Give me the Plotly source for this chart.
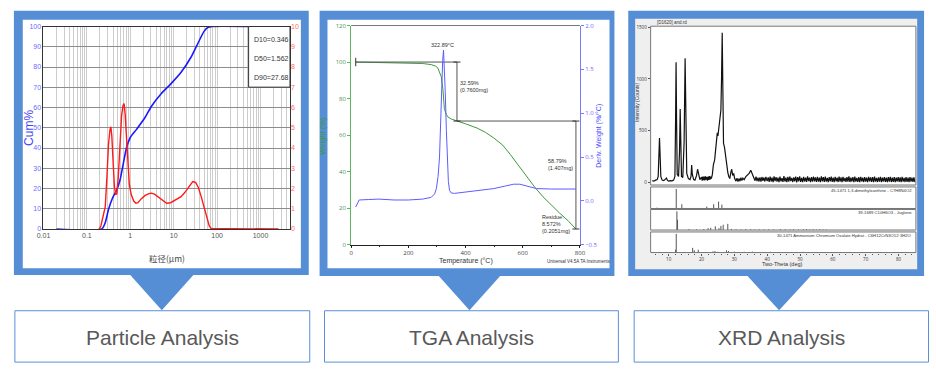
import plotly.graph_objects as go

W, H = 936, 371


def fx(p):
    return p / W


def fy(p):
    return 1 - p / H


NARROW = "Liberation Sans Narrow, Arial Narrow, Liberation Sans, Arial, sans-serif"
SANS = "Liberation Sans, Arial, sans-serif"

# ---------------- Particle size data ----------------
psd_cum_size = [0.02, 0.22, 0.265, 0.315, 0.39, 0.49, 0.58, 0.69, 0.82, 1.0, 1.39, 2.15,
                3.05, 5.2, 8.7, 14.8, 24.8, 35, 50, 61, 77, 520]
psd_cum_pct = [0, 0, 3.2, 9.7, 15.3, 19.4, 24.2, 32.3, 40.3, 45.2, 49.2, 54.8,
               60.5, 66.9, 71.8, 77.4, 84.7, 91.1, 97.6, 99.5, 100, 100]
psd_freq_size = [0.19, 0.21, 0.24, 0.265, 0.29, 0.315, 0.34, 0.357, 0.375,
                 0.4, 0.43, 0.46, 0.49, 0.53, 0.58, 0.63, 0.68, 0.72, 0.76,
                 0.82, 0.88, 0.95, 1.05, 1.2, 1.35, 1.5, 1.8, 2.2, 2.7,
                 3.05, 3.6, 4.4, 5.4, 6.9, 8.5, 10.5, 12.5, 14.8, 18,
                 22, 27.5, 32, 37, 43, 50, 58, 66, 73, 2600]
psd_freq_val = [0, 0.15, 0.7, 1.1, 2.6, 4.2, 4.9, 5.05, 4.6,
                3.2, 2.1, 1.7, 1.75, 2.6, 4.4, 5.6, 6.1, 6.2, 5.7,
                4.4, 3.0, 2.2, 1.7, 1.38, 1.27, 1.3, 1.5, 1.66, 1.75,
                1.77, 1.72, 1.58, 1.42, 1.27, 1.3, 1.42, 1.52, 1.6, 1.8,
                2.05, 2.34, 2.3, 2.05, 1.6, 1.13, 0.55, 0.15, 0.03, 0]
psd_decades = [0.01, 0.1, 1, 10, 100, 1000]
psd_decade_labels = ["0.01", "0.1", "1", "10", "100", "1000"]
psd_stats = ["D10=0.346", "D50=1.562", "D90=27.68"]

# ---------------- TGA data ----------------
tga_temp = [16, 100, 200, 250, 280, 295, 303, 310, 315, 321, 326, 332, 338, 350, 372,
            400, 441, 470, 499, 530, 556, 585, 614, 642, 671, 700, 729, 758, 786]
tga_weight = [100, 99.8, 99.5, 99.2, 98.6, 97.8, 96.8, 94.5, 92, 85, 74.5, 71.5, 70, 68.8, 67.7,
              66.2, 63.8, 61.5, 58.4, 54.5, 49.5, 43.5, 37, 31.5, 26.2, 21.5, 17.3, 13.2, 8.6]
dtg_temp = [16, 22, 28, 60, 97, 150, 200, 250, 280, 292, 298, 304, 309, 313, 317, 320, 323,
            326, 329, 333, 336, 340, 344, 350, 361, 390, 418, 460, 499, 540, 568, 590,
            602, 625, 648, 700, 786]
dtg_value = [-0.07, -0.02, 0.01, 0.015, 0.02, 0.01, 0.01, 0.02, 0.04, 0.08, 0.14, 0.28, 0.50,
             0.9, 1.35, 1.6, 1.72, 1.55, 1.25, 0.8, 0.45, 0.22, 0.12, 0.09, 0.085, 0.095, 0.11,
             0.125, 0.14, 0.17, 0.19, 0.19, 0.18, 0.16, 0.14, 0.135, 0.135]
tga_step_temp = [16, 370, 370, 786, 786]
tga_step_weight = [100, 100, 67.7, 67.7, 8.6]

# ---------------- XRD data ----------------
xrd_head = [(5.0, 20), (5.5, 15), (6.0, 25), (6.5, 30), (6.8, 60), (7.0, 250), (7.2, 430),
            (7.4, 250), (7.6, 60), (8.0, 25), (8.5, 20), (9.0, 35), (9.3, 45), (9.6, 25),
            (10.0, 15), (10.5, 20), (11.0, 18), (11.5, 25), (11.9, 60), (12.1, 600),
            (12.25, 1160), (12.4, 600), (12.6, 80), (13.0, 60), (13.3, 300), (13.5, 710),
            (13.7, 350), (13.9, 60), (14.3, 50), (14.7, 400), (15.0, 1200), (15.2, 500),
            (15.5, 90), (16.0, 40), (16.5, 30), (16.8, 60), (17.0, 170), (17.2, 80),
            (17.6, 30), (18.0, 25), (18.5, 70), (18.8, 130), (19.1, 90), (19.5, 30),
            (20.0, 55), (20.2, 20), (20.4, 60), (20.6, 25), (20.8, 58), (21.0, 22),
            (21.2, 62), (21.4, 30), (21.6, 55), (21.8, 20), (22.0, 60), (22.2, 28),
            (22.4, 64), (22.6, 30), (22.8, 58), (23.0, 40), (23.3, 80), (23.6, 170),
            (24.0, 220), (24.4, 350), (24.8, 480), (25.0, 450), (25.3, 560), (25.6, 650),
            (25.9, 700), (26.1, 1000), (26.3, 1445), (26.5, 900), (26.7, 380), (27.0, 340),
            (27.3, 250), (27.6, 170), (28.0, 100), (28.3, 60), (28.6, 40), (29.0, 110),
            (29.2, 130), (29.5, 70), (29.8, 90), (30.1, 40), (30.5, 15), (30.8, 45),
            (31.1, 12), (31.4, 40), (31.7, 15), (32.0, 48), (32.3, 20), (32.6, 45),
            (33.0, 30), (33.5, 60), (34.0, 75), (34.5, 90), (35.0, 120), (35.3, 100),
            (35.6, 70), (36.0, 55), (36.3, 20), (36.6, 58), (36.9, 15), (37.2, 50),
            (37.5, 12), (37.8, 52), (38.1, 10), (38.4, 55), (38.7, 18), (39.0, 50),
            (39.3, 12), (39.6, 56), (40.0, 15)]
xrd_tail_counts = [52, 8, 60, 12, 48, 5, 62, 15, 55, 10, 50, 6, 58, 14, 45, 8, 63, 12, 50, 5,
                   56, 10, 60, 16, 47, 7, 52, 12, 58, 4, 55, 14, 62, 9, 46, 6, 57, 12, 50, 8,
                   61, 15, 48, 5, 54, 10, 60, 13, 52, 7, 57, 11, 49, 6, 62, 14, 53, 8, 58, 10,
                   47, 5, 55, 12, 60, 9, 50, 6, 56, 13, 48, 7, 59, 11, 52, 5, 57, 14, 46, 8,
                   55, 10, 61, 7, 49, 12, 54, 6, 58, 10, 47, 9, 53, 5, 56, 12, 50, 7, 55, 10,
                   48, 6, 57, 13, 51, 8, 54, 5, 59, 11, 46, 7, 52, 10, 56, 6, 50, 12, 55, 8,
                   48, 5, 53, 11, 57, 7, 50, 9, 54, 6, 49, 12, 55, 8, 51, 5, 56, 10, 47, 7,
                   53, 9, 50, 6, 55, 11, 48, 8, 52, 6]
xrd_tail_start, xrd_tail_step = 40.3, 0.3

stick_a_pos = [6.4, 12.3, 14.0, 21.6, 23.7, 25.2, 26.2]
stick_a_int = [4, 100, 22, 10, 22, 35, 20]
stick_b_pos = [12.5, 12.7, 16.2, 18.5, 20.7, 22.0, 22.8, 24.2, 25.3, 25.9, 26.6, 28.0, 29.1,
               30.5, 32.0, 33.5, 35.0, 36.2, 37.5, 39.0, 40.5, 42.0, 44.0, 45.5, 47.0, 48.0,
               49.5, 51.0, 52.0, 53.0, 54.0, 55.0, 56.0, 57.0, 58.0]
stick_b_int = [100, 55, 5, 4, 5, 10, 12, 20, 10, 22, 28, 33, 6, 4, 3, 5, 4, 3, 4, 3, 4, 3, 5,
               4, 3, 4, 3, 4, 5, 3, 4, 3, 4, 3, 3]
stick_c_pos = [12.1, 12.3, 17.3, 17.8, 19.0, 23.5, 24.1, 25.0, 27.6, 28.2, 30.0, 33.0, 35.5,
               38.0, 41.0, 44.0, 47.5, 51.0, 55.0, 60.0, 65.0, 70.0, 75.0, 80.0]
stick_c_int = [15, 100, 25, 12, 15, 6, 8, 4, 12, 8, 5, 4, 5, 3, 4, 3, 3, 4, 3, 3, 3, 3, 3, 3]
stick_labels = ["45-1471 1,3-dimethylxanthine - C7H8N4O2",
                "39-1689 C10H6O3 - Juglone",
                "30-1471 Ammonium Chromium Oxalate Hydrat - C6H12CrN3O12\u00b73H2O"]

panel_titles = ["Particle Analysis", "TGA Analysis", "XRD Analysis"]

# ---------------- figure ----------------
fig = go.Figure()

# Particle
fig.add_trace(go.Scatter(x=psd_freq_size, y=psd_freq_val, xaxis="x", yaxis="y2", mode="lines",
                         line=dict(color="#ff1a1a", width=1.4)))
fig.add_trace(go.Scatter(x=psd_cum_size, y=psd_cum_pct, xaxis="x", yaxis="y", mode="lines",
                         line=dict(color="#1a1aff", width=1.6, shape="spline", smoothing=0.6)))

# TGA
fig.add_trace(go.Scatter(x=dtg_temp, y=dtg_value, xaxis="x2", yaxis="y4", mode="lines",
                         line=dict(color="#5c5cff", width=1)))
fig.add_trace(go.Scatter(x=tga_temp, y=tga_weight, xaxis="x2", yaxis="y3", mode="lines",
                         line=dict(color="#3c9a3c", width=1)))
fig.add_trace(go.Scatter(x=tga_step_temp, y=tga_step_weight, xaxis="x2", yaxis="y3",
                         mode="lines", line=dict(color="#555555", width=1)))
fig.add_trace(go.Scatter(x=[tga_step_temp[0]], y=[tga_step_weight[0]], xaxis="x2", yaxis="y3",
                         mode="markers", marker=dict(symbol="line-ns", size=6,
                                                     line=dict(color="#333", width=1))))
fig.add_trace(go.Scatter(x=tga_step_temp[1:], y=tga_step_weight[1:], xaxis="x2", yaxis="y3",
                         mode="markers", marker=dict(symbol="line-ew", size=5,
                                                     line=dict(color="#333", width=1))))

# XRD
xrd_theta = [p[0] for p in xrd_head] + [xrd_tail_start + xrd_tail_step * i
                                         for i in range(len(xrd_tail_counts))]
xrd_counts = [p[1] for p in xrd_head] + xrd_tail_counts
fig.add_trace(go.Scatter(x=xrd_theta, y=xrd_counts, xaxis="x3", yaxis="y5", mode="lines",
                         line=dict(color="#111111", width=1.2)))


def sticks(pos, hts):
    xs, ys = [], []
    for p, h in zip(pos, hts):
        xs += [p, p, None]
        ys += [0, h, None]
    return xs, ys


for ax, (pos, hts) in zip(["y6", "y7", "y8"], [(stick_a_pos, stick_a_int),
                                              (stick_b_pos, stick_b_int),
                                              (stick_c_pos, stick_c_int)]):
    sx, sy = sticks(pos, hts)
    fig.add_trace(go.Scatter(x=sx, y=sy, xaxis="x3", yaxis=ax, mode="lines",
                             line=dict(color="#555555", width=1)))

# ---------------- shapes ----------------
BLUE = "#558ed5"
shapes = []


def rect(x0, y0, x1, y1, fill=None, line=None, lw=1, layer="below"):
    d = dict(type="rect", xref="paper", yref="paper", x0=fx(x0), x1=fx(x1), y0=fy(y1), y1=fy(y0),
             layer=layer, line=dict(width=lw if line else 0, color=line or "rgba(0,0,0,0)"))
    if fill:
        d["fillcolor"] = fill
    return d


frames = [((7, 7, 306, 277), (16, 16, 298, 270), "white"),
          ((317, 7, 616, 278), (325, 16, 611, 270), "white"),
          ((630, 7, 930, 278), (637, 15, 923, 271), "#efefef")]
for outer, inner, fillc in frames:
    shapes.append(rect(*outer, fill=BLUE))
    shapes.append(rect(*inner, fill=fillc))

# XRD white plot areas
xl, xr = 652.7, 921.7
xrd_boxes = [(22.7, 185), (187, 209), (210, 231), (233, 254)]
for t, b in xrd_boxes:
    shapes.append(rect(xl, t, xr, b, fill="white"))
    shapes.append(rect(xl, t, xr, b, line="#777777", lw=1, layer="above"))

# D-value box
shapes.append(rect(245, 23, 287, 85, fill="white", line="#333333", lw=1, layer="above"))

# TGA top border
shapes.append(dict(type="line", xref="paper", yref="paper", x0=fx(349), x1=fx(581),
                   y0=fy(22), y1=fy(22), line=dict(color="#777777", width=1)))

# triangles and boxes
tri = [(125, 189, 157), (437, 501, 469), (750, 816, 783)]
for xa, xb, xc in tri:
    path = "M {} {} L {} {} L {} {} Z".format(fx(xa), fy(277), fx(xb), fy(277), fx(xc), fy(313))
    shapes.append(dict(type="path", xref="paper", yref="paper", path=path, fillcolor=BLUE,
                       line=dict(width=0), layer="above"))
label_boxes = [(8, 307), (322, 620), (636, 934.5)]
for xa, xb in label_boxes:
    shapes.append(rect(xa, 313.5, xb, 366, line="#5b8fd6", lw=1, layer="above"))

# ---------------- annotations ----------------
ann = []


def text(x, y, s, size, color="#333", xanchor="center", yanchor="middle", angle=0, family=SANS,
         xref="paper", yref="paper", align="center"):
    ann.append(dict(x=fx(x) if xref == "paper" else x, y=fy(y) if yref == "paper" else y,
                    xref=xref, yref=yref, text=s, showarrow=False, xanchor=xanchor,
                    yanchor=yanchor, textangle=angle, align=align,
                    font=dict(size=size, color=color, family=family)))


for (xa, xb), t in zip(label_boxes, panel_titles):
    text((xa + xb) / 2, 341, t, 21, "#595959")

# particle
text(23, 127, "Cum%", 12, "#4545ff", angle=-90)
text(162, 260, "粒径(μm)", 8.5, "#444", family="Noto Sans CJK SC, sans-serif")
for i, s in enumerate(psd_stats):
    text(248, 36 + 19.5 * i, s, 7, "#333", xanchor="left")

# TGA
text(320, 135, "Weight (%)", 7.5, "#3c9a3c", angle=-90)
text(600, 135, "Deriv. Weight (%/°C)", 7, "#4a4aff", angle=-90)
text(465, 263, "Temperature (°C)", 7, "#333")
text(580, 263, "Universal V4.5A TA Instruments", 4.5, "#333")
text(320, 109.4, "322.89°C", 5.5, "#333", xref="x2", yref="y3")
text(374, 86.8, "32.59%<br>(0.7600mg)", 5.5, "#333", xanchor="left", xref="x2", yref="y3",
     align="left")
text(782, 43.9, "58.79%<br>(1.407mg)", 5.5, "#333", xanchor="right", xref="x2", yref="y3",
     align="left")
text(662, 11.2, "Residue:<br>8.572%<br>(0.2051mg)", 5.5, "#333", xanchor="left", xref="x2",
     yref="y3", align="left")

# XRD
text(639, 100, "Intensity (Counts)", 5, "#333", angle=-90)
text(786, 266, "Two-Theta (deg)", 5.5, "#333")
text(657, 19, "[D1620] and.rd", 4.5, "#333", xanchor="left")
for (t, b), s in zip(xrd_boxes[1:], stick_labels):
    text(919.5, t + 3.5, s, 4.2, "#333", xanchor="right")

# ---------------- layout ----------------
psd_tickvals = [m * d for d in psd_decades for m in range(1, 10)]
psd_ticktext = [lab if m == 1 else "" for lab in psd_decade_labels for m in range(1, 10)]

small_axis = dict(showgrid=False, zeroline=False)

fig.update_layout(
    width=W, height=H, autosize=False, margin=dict(l=0, r=0, t=0, b=0),
    paper_bgcolor="white", plot_bgcolor="rgba(0,0,0,0)", showlegend=False,
    shapes=shapes, annotations=ann,
    xaxis=dict(type="log", domain=[fx(37), fx(287)], range=[-2, 3.68], anchor="y",
               tickvals=psd_tickvals, ticktext=psd_ticktext, showgrid=True,
               gridcolor="#cdcdcd", gridwidth=1, showline=True, linecolor="#333", mirror=True,
               ticks="", tickfont=dict(size=7, color="#555", family=NARROW), zeroline=False),
    yaxis=dict(domain=[fy(230), fy(23)], range=[0, 100], dtick=10, anchor="x", showgrid=True,
               gridcolor="#8c8c8c", showline=True, linecolor="#333", mirror=True, ticks="",
               tickfont=dict(size=7, color="#6b6bff", family=NARROW), zeroline=False),
    yaxis2=dict(overlaying="y", side="right", range=[0, 10], dtick=1, anchor="x",
                showgrid=False, ticks="", tickfont=dict(size=7, color="#ff6b6b", family=NARROW),
                zeroline=False),
    xaxis2=dict(domain=[fx(349), fx(581)], range=[0, 800], dtick=200, anchor="y3",
                showline=True, linecolor="#222", ticks="outside", ticklen=2, tickcolor="#222",
                tickfont=dict(size=6, color="#444"), showgrid=False, zeroline=False,
                minor=dict(dtick=100, ticks="outside", ticklen=1.5, tickcolor="#222")),
    yaxis3=dict(domain=[fy(246), fy(22)], range=[0, 120], dtick=20, anchor="x2", showline=True,
                linecolor="#5cb85c", ticks="outside", ticklen=3, tickcolor="#5cb85c",
                tickfont=dict(size=6, color="#4f8f4f"), showgrid=False, zeroline=False),
    yaxis4=dict(overlaying="y3", side="right", range=[-0.5, 2.0], dtick=0.5, tickformat=".1f",
                anchor="x2", showline=True, linecolor="#7a7aff", ticks="outside", ticklen=3,
                tickcolor="#7a7aff", tickfont=dict(size=6, color="#6a6aff"), showgrid=False,
                zeroline=False),
    xaxis3=dict(domain=[fx(xl), fx(xr)], range=[4.5, 85.3], dtick=10, anchor="y8",
                ticks="outside", ticklen=2, tickcolor="#555", tickfont=dict(size=4.5, color="#333"),
                showline=False, showgrid=False, zeroline=False,
                minor=dict(dtick=2, ticks="outside", ticklen=1.5, tickcolor="#555")),
    yaxis5=dict(domain=[fy(185), fy(22.7)], range=[-22, 1508], tickvals=[0, 500, 1000, 1500],
                anchor="x3", ticks="outside", ticklen=2, tickcolor="#555",
                tickfont=dict(size=4.5, color="#333"), **small_axis),
    yaxis6=dict(domain=[fy(209), fy(187)], range=[0, 110], anchor="x3", showticklabels=False,
                **small_axis),
    yaxis7=dict(domain=[fy(231), fy(210)], range=[0, 110], anchor="x3", showticklabels=False,
                **small_axis),
    yaxis8=dict(domain=[fy(254), fy(233)], range=[0, 110], anchor="x3", showticklabels=False,
                **small_axis),
)

fig.write_html("out.html", config={"displayModeBar": False},
               post_script="document.body.style.margin='0';"
                           "document.body.style.overflow='hidden';")
